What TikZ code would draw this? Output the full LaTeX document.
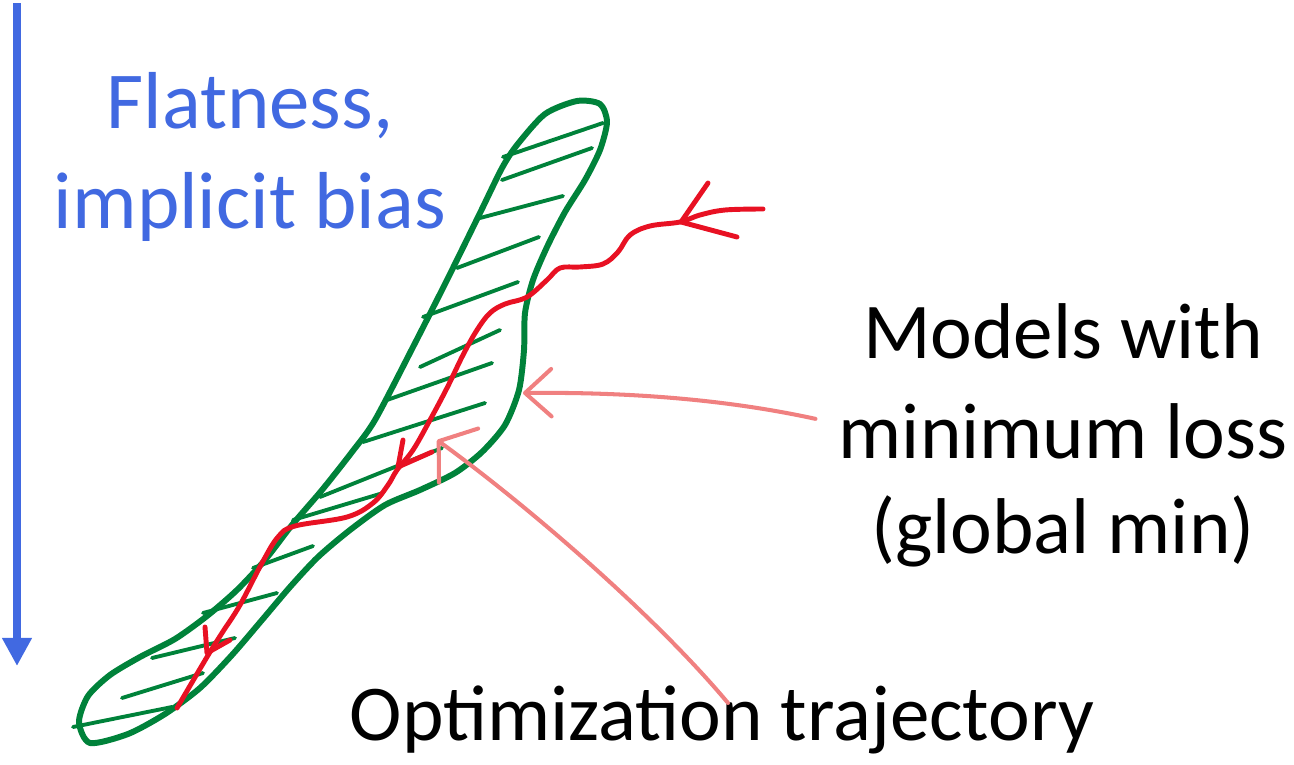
\documentclass[tikz,border=0pt]{standalone}
\usepackage{fontspec}
\setmainfont{Carlito}
\usetikzlibrary{arrows.meta}
\definecolor{flatblue}{RGB}{65,105,225}
\definecolor{blobgreen}{RGB}{0,130,58}
\definecolor{trajred}{RGB}{232,17,35}
\definecolor{pinkline}{RGB}{240,128,128}
\tikzset{
  lbl/.style={font=\fontsize{45}{54}\selectfont, inner sep=0pt, anchor=base},
  bluelbl/.style={lbl, text=flatblue, font=\fontsize{46}{55}\selectfont},
  outline/.style={draw=blobgreen, line width=3.4pt, line join=round},
  hatch/.style={blobgreen, line width=2.2pt, line cap=round},
  traj/.style={trajred, line width=2.8pt, line cap=round, line join=round},
  pointer/.style={pinkline, line width=2.3pt, line cap=round}
}
\begin{document}
\begin{tikzpicture}[x=0.02cm, y=-0.02cm]
\useasboundingbox (0,0) rectangle (1294,764);
\draw[flatblue, line width=4.4pt, -{Triangle[length=16pt, width=16pt]}] (17,3) -- (17,666);
\node[bluelbl] (flatA) at (250,128) {Flatness,};
\node[bluelbl] (flatB) at (250,228) {implicit bias};
\node[lbl] (modA) at (1063,358) {Models with};
\node[lbl] (modB) at (1063,458) {minimum loss};
\node[lbl] (modC) at (1063,553) {(global min)};
\node[lbl] (optim) at (722,740) {Optimization trajectory};
\draw[outline] plot[smooth cycle, tension=0.45] coordinates {
  (517,145) (545,114) (577,101) (600,104) (607,122) (600,150) (585,180)
  (565,212) (547,247) (533,280) (525,313) (524,350) (519,390) (505,425)
  (482,452) (455,473) (420,490) (385,505) (350,530) (318,557)
  (290,587) (262,620) (232,655) (200,688) (165,714) (128,734)
  (90,743) (79,722) (88,696) (110,675) (140,657) (175,639) (207,616)
  (237,590) (265,560) (292,525) (322,490) (352,452) (375,420) (413,347)
  (447,280) (480,213) (502,168)};
\foreach \xa/\ya/\xb/\yb in {503/157/603/123, 502/180/592/148, 480/218/563/196,
    457/268/539/237, 423/317/518/282, 420/367/500/330, 387/400/492/363,
    363/442/485/403, 320/497/442/448, 293/520/383/493, 253/568/313/546,
    203/613/277/593, 152/658/235/638, 122/698/203/673, 73/727/172/707}
  \draw[hatch] (\xa,\ya) -- (\xb,\yb);
\draw[traj] plot[smooth, tension=0.6] coordinates {
  (763,209) (725,210) (700,215) (680,222) (650,226) (630,235) (618,252)
  (603,264) (580,267) (560,268) (547,280) (527,297) (505,304) (490,313)
  (477,330) (463,355) (447,388) (430,420) (413,450) (397,470) (388,485)
  (373,503) (347,517) (295,526) (278,537) (262,563) (240,605) (222,633)
  (207,657) (177,708)};
\draw[traj] (708,183) -- (681,222) -- (737,237);
\draw[traj] (403,440) -- (398,467) -- (432,452);
\draw[traj] (205,627) -- (207,653) -- (230,640);
\draw[pointer, -{Straight Barb[length=15pt, width=27pt, round]}]
  ([xshift=-0.46cm, yshift=0.24cm]modB.west) .. controls (720,398) and (620,392) .. (523,393);
\draw[pointer, -{Straight Barb[length=14pt, width=38pt, round]}]
  ([xshift=0.12cm, yshift=-0.36cm]optim.north) .. controls (650,610) and (520,500) .. (437,440);
\end{tikzpicture}
\end{document}
